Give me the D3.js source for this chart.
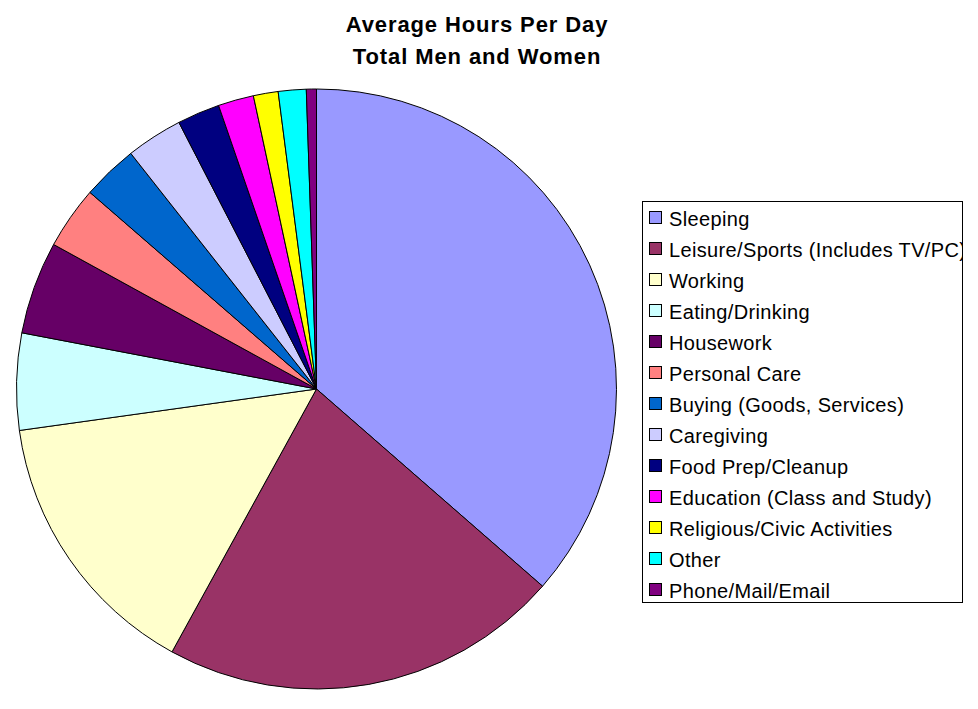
<!DOCTYPE html>
<html>
<head>
<meta charset="utf-8">
<script src="https://cdn.jsdelivr.net/npm/d3@7/dist/d3.min.js"></script>
<style>
  body { margin: 0; background: #fff; }
  svg { font-family: Arial, "Liberation Sans", sans-serif; }
</style>
</head>
<body>
<div id="chart"></div>
<script>
// hours per day
var categories = ['Sleeping', 'Leisure/Sports (Includes TV/PC)', 'Working', 'Eating/Drinking',
  'Housework', 'Personal Care', 'Buying (Goods, Services)', 'Caregiving', 'Food Prep/Cleanup',
  'Education (Class and Study)', 'Religious/Civic Activities', 'Other', 'Phone/Mail/Email'];
var hours = [8.74, 5.18, 3.55, 1.25, 1.20, 0.81, 0.72, 0.73, 0.55, 0.46, 0.32, 0.36, 0.13];
var colors = ['#9999FF', '#993366', '#FFFFCC', '#CCFFFF', '#660066', '#FF8080', '#0066CC',
  '#CCCCFF', '#000080', '#FF00FF', '#FFFF00', '#00FFFF', '#800080'];
var titleLines = ['Average Hours Per Day', 'Total Men and Women'];

var width = 978, height = 709;
var cx = 316.5, cy = 389, radius = 300;

var svg = d3.select('#chart').append('svg')
  .attr('width', width)
  .attr('height', height);

// title
svg.append('g').selectAll('text')
  .data(titleLines)
  .enter().append('text')
  .attr('x', 477)
  .attr('y', function(d, i) { return 32 + i * 31.5; })
  .attr('text-anchor', 'middle')
  .attr('font-size', '22px')
  .attr('letter-spacing', '0.9px')
  .attr('font-weight', 'bold')
  .text(function(d) { return d; });

var data = categories.map(function(c, i) { return {name: c, value: hours[i], color: colors[i]}; });

var pie = d3.pie().sort(null).value(function(d) { return d.value; });
var arc = d3.arc().innerRadius(0).outerRadius(radius);

svg.append('g')
  .attr('transform', 'translate(' + cx + ',' + cy + ')')
  .selectAll('path')
  .data(pie(data))
  .enter().append('path')
  .attr('d', arc)
  .attr('fill', function(d) { return d.data.color; })
  .attr('stroke', '#000')
  .attr('stroke-width', 1);

// legend
var lx = 642.5, ly = 201.5, lw = 320, lh = 401;
svg.append('clipPath').attr('id', 'legclip')
  .append('rect').attr('x', lx).attr('y', ly).attr('width', lw).attr('height', lh);

var leg = svg.append('g');
leg.append('rect')
  .attr('x', lx).attr('y', ly).attr('width', lw).attr('height', lh)
  .attr('fill', '#fff').attr('stroke', '#000').attr('stroke-width', 1);

var rowY = d3.scalePoint().domain(categories).range([218, 590]);

var items = leg.append('g').attr('clip-path', 'url(#legclip)')
  .selectAll('g')
  .data(data)
  .enter().append('g')
  .attr('transform', function(d) { return 'translate(0,' + rowY(d.name) + ')'; });

items.append('rect')
  .attr('x', 649.5).attr('y', -6.5)
  .attr('width', 12).attr('height', 12)
  .attr('fill', function(d) { return d.color; })
  .attr('stroke', '#000').attr('stroke-width', 1);

items.append('text')
  .attr('x', 669)
  .attr('y', 8)
  .attr('font-size', '20px')
  .attr('letter-spacing', '0.35px')
  .text(function(d) { return d.name; });
</script>
</body>
</html>
